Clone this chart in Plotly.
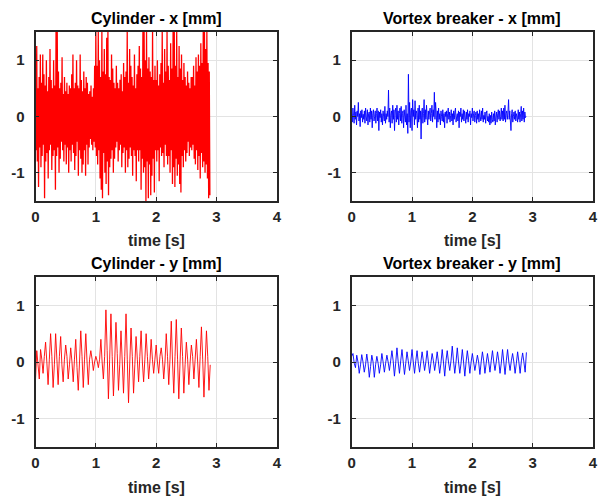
import numpy as np
import plotly.graph_objects as go

# ---- measured displacement signals ----
# Cylinder x displacement [mm], sampled every 0.01 s
dt_fast = 0.01
cyl_x = [
    0.9, -0.6, 1.25, -0.8, 0.5, -1.25, 0.7, -0.55, 1.1, -0.9,
    0.6, -0.7, 1.1, -0.5, 0.75, -1.45, 0.55, -0.8, 1.0, -0.65,
    0.45, -1.1, 0.7, -0.6, 1.2, -0.5, 0.65, -0.95, 0.5, -0.7,
    1.0, -0.6, 0.55, -1.3, 1.5, -0.7, 1.5, -0.55, 0.8, -1.0,
    0.5, -0.75, 0.6, -0.45, 1.05, -0.6, 0.4, -0.8, 0.7, -0.5,
    0.45, -0.85, 0.6, -0.55, 0.4, -1.0, 0.55, -0.6, 0.5, -0.8,
    0.75, -0.5, 1.1, -0.65, 0.5, -0.95, 0.6, -0.7, 1.0, -0.45,
    0.55, -1.05, 0.5, -0.6, 1.1, -0.75, 0.65, -1.0, 0.45, -0.85,
    0.8, -0.6, 0.5, -1.05, 0.7, -0.5, 0.6, -0.85, 0.4, -0.55,
    0.45, -0.4, 0.55, -0.5, 0.35, -0.6, 0.5, -0.45, 0.9, -0.55,
    1.5, -0.7, 0.9, -0.85, 1.5, -0.6, 1.0, -1.1, 0.7, -1.3,
    1.5, -1.45, 0.8, -0.65, 1.2, -1.0, 0.75, -1.2, 1.4, -0.8,
    1.5, -1.4, 0.7, -0.9, 0.65, -0.75, 1.1, -0.6, 0.85, -1.0,
    0.6, -0.75, 0.5, -0.55, 0.9, -0.45, 0.6, -0.8, 0.5, -0.6,
    0.65, -0.5, 0.75, -0.9, 0.45, -0.65, 0.95, -0.55, 0.7, -1.0,
    0.8, -0.6, 1.5, -0.9, 0.6, -0.75, 1.2, -0.55, 0.9, -0.7,
    0.7, -1.05, 0.55, -0.6, 1.1, -0.7, 0.5, -1.15, 0.75, -0.6,
    0.9, -0.8, 1.25, -0.6, 0.85, -1.3, 0.7, -0.75, 1.5, -1.0,
    1.5, -0.9, 1.0, -1.5, 1.5, -0.8, 0.85, -1.45, 1.05, -0.85,
    0.8, -1.4, 0.7, -1.05, 1.5, -0.75, 0.65, -1.35, 0.9, -0.6,
    0.65, -0.8, 1.0, -0.6, 0.55, -1.15, 0.75, -0.55, 0.95, -0.7,
    1.5, -0.65, 0.6, -0.9, 1.2, -0.5, 0.8, -0.7, 1.5, -0.85,
    0.9, -0.7, 0.65, -1.0, 1.3, -0.6, 0.85, -1.2, 1.5, -0.9,
    1.5, -1.25, 0.9, -0.75, 1.5, -1.05, 0.7, -0.85, 1.25, -1.2,
    0.85, -1.35, 1.1, -0.7, 0.65, -0.9, 0.95, -0.6, 0.7, -0.8,
    0.55, -0.65, 0.8, -0.45, 0.6, -0.7, 0.5, -0.55, 0.7, -0.6,
    0.7, -0.5, 0.9, -0.75, 0.55, -0.85, 1.05, -0.6, 0.8, -0.95,
    1.1, -0.7, 0.9, -1.1, 1.3, -0.65, 0.95, -0.9, 1.5, -0.8,
    1.5, -1.0, 1.2, -0.85, 1.5, -1.1, 0.95, -1.45, 0.8, -1.4,
]

# Vortex breaker x displacement [mm], sampled every 0.01 s
vb_x = [
    0.05, -0.1, 0.15, 0.02, -0.12, 0.2, -0.05, 0.08, -0.15, 0.1,
    0.0, 0.25, -0.08, 0.05, -0.18, 0.1, -0.02, 0.12, -0.1, 0.04,
    -0.05, 0.1, -0.12, 0.15, 0.0, -0.08, 0.12, -0.15, 0.05, 0.08,
    -0.1, 0.15, -0.05, 0.1, -0.2, 0.05, 0.12, -0.08, 0.0, 0.1,
    -0.12, 0.05, 0.15, -0.08, 0.1, -0.25, 0.08, -0.02, 0.12, -0.1,
    0.05, -0.15, 0.1, 0.0, -0.08, 0.18, -0.12, 0.05, -0.05, 0.1,
    0.0, 0.47, -0.1, 0.15, -0.2, 0.05, 0.1, -0.12, 0.2, -0.05,
    0.12, -0.25, 0.08, 0.15, -0.1, 0.2, -0.05, 0.1, -0.15, 0.05,
    0.15, -0.08, 0.18, -0.12, 0.05, 0.1, -0.2, 0.12, 0.0, -0.1,
    0.2, -0.15, 0.05, -0.3, 0.75, -0.1, 0.25, -0.2, 0.1, 0.15,
    -0.25, 0.3, 0.0, 0.12, -0.15, 0.28, -0.05, 0.1, 0.05, -0.2,
    0.15, -0.1, 0.2, -0.05, 0.1, -0.4, 0.08, 0.15, -0.12, 0.05,
    0.3, -0.1, 0.12, -0.05, 0.2, 0.0, -0.15, 0.1, -0.05, 0.08,
    0.15, -0.08, 0.05, 0.2, -0.1, 0.12, 0.0, 0.43, -0.05, 0.25,
    0.08, -0.2, 0.1, -0.1, 0.15, -0.05, 0.05, -0.15, 0.1, 0.0,
    -0.08, 0.12, -0.1, 0.05, -0.2, 0.08, 0.0, 0.1, -0.12, 0.05,
    0.15, -0.05, 0.08, -0.1, 0.02, 0.12, -0.08, 0.05, -0.15, 0.1,
    -0.05, 0.08, 0.15, -0.1, 0.0, 0.05, -0.08, 0.1, -0.2, 0.08,
    0.0, 0.15, -0.1, 0.05, -0.05, 0.12, -0.08, 0.1, 0.0, -0.12,
    0.08, -0.05, 0.12, -0.1, 0.05, 0.0, 0.1, -0.15, 0.05, -0.02,
    0.15, -0.08, 0.05, 0.1, -0.1, 0.02, 0.08, -0.12, 0.1, -0.05,
    0.05, -0.1, 0.12, 0.0, -0.08, 0.1, -0.05, 0.15, -0.1, 0.02,
    -0.05, 0.08, -0.12, 0.05, 0.1, -0.08, 0.0, -0.1, 0.05, -0.15,
    0.02, -0.12, 0.08, -0.05, -0.1, 0.05, -0.08, 0.1, -0.15, 0.0,
    0.08, -0.1, 0.05, 0.12, -0.05, 0.1, -0.08, 0.0, 0.15, -0.05,
    0.1, -0.08, 0.15, -0.05, 0.2, -0.1, 0.05, 0.1, -0.05, 0.08,
    0.3, -0.05, 0.1, -0.08, -0.25, 0.05, 0.12, -0.1, 0.0, 0.08,
    -0.05, 0.1, -0.08, 0.05, 0.0, -0.1, 0.12, -0.05, 0.08, -0.1,
    0.05, 0.18, -0.08, 0.1, -0.05, 0.15, -0.1, 0.08, -0.02, 0.0,
]

# Cross-flow (y) signals, sampled every 1/48 s (about four samples per shedding cycle)
dt_slow = 1.0 / 48.0
cyl_y = [
    -0.3, 0.2, -0.05, -0.3, 0.22, 0.05, -0.2, 0.1,
    0.35, 0.0, -0.4, 0.05, 0.5, 0.1, -0.45, -0.05,
    0.5, 0.05, -0.4, 0.1, 0.45, -0.05, -0.35, 0.05,
    0.3, 0.1, -0.3, -0.05, 0.25, 0.0, -0.35, 0.05,
    0.4, -0.1, -0.5, 0.0, 0.55, 0.1, -0.45, 0.05,
    0.5, 0.0, -0.4, 0.05, 0.2, 0.05, -0.15, 0.0,
    0.1, 0.02, -0.1, 0.05, 0.4, 0.0, -0.3, 0.1,
    0.92, 0.2, -0.65, 0.05, 0.85, 0.1, -0.6, 0.0,
    0.7, 0.15, -0.5, -0.05, 0.55, 0.0, -0.55, 0.1,
    0.85, 0.05, -0.72, 0.0, 0.6, 0.1, -0.55, -0.05,
    0.45, 0.05, -0.35, 0.1, 0.55, 0.0, -0.35, 0.05,
    0.5, 0.1, -0.3, 0.0, 0.4, 0.05, -0.2, 0.05,
    0.3, 0.0, -0.2, 0.1, 0.25, 0.05, -0.3, 0.0,
    0.5, 0.1, -0.4, 0.05, 0.72, 0.0, -0.55, 0.1,
    0.75, 0.05, -0.65, 0.0, 0.6, 0.1, -0.55, -0.05,
    0.35, 0.05, -0.4, 0.0, 0.3, 0.1, -0.3, 0.05,
    0.4, 0.0, -0.45, 0.1, 0.62, 0.05, -0.62, 0.0,
    0.55, 0.1, -0.5, -0.05,
]

vb_y = [
    0.1, 0.15, -0.02, -0.1, 0.12, 0.0, -0.2, -0.05,
    0.13, 0.0, -0.18, -0.05, 0.14, -0.02, -0.27, -0.08,
    0.12, 0.0, -0.27, -0.05, 0.1, -0.02, -0.2, -0.05,
    0.15, 0.0, -0.18, -0.02, 0.12, 0.0, -0.15, 0.02,
    0.2, 0.02, -0.25, -0.02, 0.25, 0.0, -0.2, 0.02,
    0.22, 0.0, -0.22, -0.02, 0.18, 0.02, -0.15, 0.0,
    0.22, 0.0, -0.2, 0.02, 0.2, -0.02, -0.18, 0.0,
    0.18, 0.02, -0.15, 0.0, 0.2, 0.0, -0.2, -0.02,
    0.15, 0.02, -0.15, 0.0, 0.18, 0.0, -0.2, -0.02,
    0.22, 0.0, -0.25, 0.02, 0.2, 0.0, -0.15, 0.02,
    0.28, 0.02, -0.2, 0.0, 0.25, 0.0, -0.2, -0.02,
    0.22, 0.0, -0.25, 0.0, 0.2, 0.02, -0.2, 0.0,
    0.15, 0.0, -0.15, -0.02, 0.12, 0.0, -0.22, 0.0,
    0.18, 0.02, -0.2, -0.02, 0.15, 0.0, -0.18, 0.02,
    0.2, 0.0, -0.15, 0.0, 0.18, 0.02, -0.2, -0.02,
    0.22, 0.0, -0.22, 0.02, 0.22, 0.0, -0.15, 0.02,
    0.15, 0.0, -0.2, -0.02, 0.18, 0.0, -0.2, 0.02,
    0.16, 0.0, -0.18, 0.17,
]

t_fast = np.arange(len(cyl_x)) * dt_fast
t_fast_vb = np.arange(len(vb_x)) * dt_fast
t_cyl_y = np.arange(len(cyl_y)) * dt_slow
t_vb_y = np.arange(len(vb_y)) * dt_slow

panel_titles = ["Cylinder - x [mm]", "Vortex breaker - x [mm]",
                "Cylinder - y [mm]", "Vortex breaker - y [mm]"]
x_ticks = [0, 1, 2, 3, 4]
y_ticks = [-1, 0, 1]
x_range = [0, 4]
y_range = [-1.5, 1.5]

RED = "#ff0000"
BLUE = "#0000ff"
FONT = "Liberation Sans"

W, H = 600, 499
# panel boxes in pixels: (left, right, top, bottom)
boxes = [
    (32, 277, 32, 201),
    (353, 598, 32, 201),
    (32, 277, 277, 447),
    (353, 598, 277, 447),
]

fig = go.Figure()
series = [(t_fast, cyl_x, RED, 1.3), (t_fast_vb, vb_x, BLUE, 0.9),
          (t_cyl_y, cyl_y, RED, 0.9), (t_vb_y, vb_y, BLUE, 0.9)]

for i, (t, v, c, w) in enumerate(series):
    ax = "" if i == 0 else str(i + 1)
    fig.add_trace(go.Scatter(
        x=t, y=v, mode="lines", xaxis="x" + ax, yaxis="y" + ax,
        line=dict(color=c, width=w, simplify=False),
        showlegend=False, hoverinfo="skip",
    ))

axis_common = dict(
    showline=True, linecolor="#262626", linewidth=1.8, mirror="ticks",
    ticks="inside", ticklen=4, tickwidth=1, tickcolor="#262626",
    showgrid=True, gridcolor="#e3e3e3", gridwidth=1, zeroline=False,
    tickfont=dict(family=FONT, size=15, color="#262626", weight="bold"),
)

layout = dict(
    width=W, height=H, margin=dict(l=0, r=0, t=0, b=0),
    paper_bgcolor="white", plot_bgcolor="white",
)
annotations = []
for i, (l, r, top, bot) in enumerate(boxes):
    ax = "" if i == 0 else str(i + 1)
    layout["xaxis" + ax] = dict(
        axis_common, domain=[l / W, r / W], range=x_range,
        tickvals=x_ticks, ticktext=[str(v) for v in x_ticks],
        anchor="y" + ax, ticklabelstandoff=1,
    )
    layout["yaxis" + ax] = dict(
        axis_common, domain=[1 - bot / H, 1 - top / H], range=y_range,
        tickvals=y_ticks, ticktext=[str(v) for v in y_ticks],
        anchor="x" + ax, ticklabelstandoff=6,
    )
    cx = (l + r) / 2 / W
    annotations.append(dict(
        text=panel_titles[i], x=cx, y=1 - (top - 14) / H, xref="paper", yref="paper",
        showarrow=False, xanchor="center", yanchor="middle",
        font=dict(family=FONT, size=16, color="#000000", weight="bold"),
    ))
    annotations.append(dict(
        text="time [s]", x=cx, y=1 - (bot + 40) / H, xref="paper", yref="paper",
        showarrow=False, xanchor="center", yanchor="middle",
        font=dict(family=FONT, size=16, color="#262626", weight="bold"),
    ))
layout["annotations"] = annotations
fig.update_layout(**layout)

fig.write_html("out.html")
